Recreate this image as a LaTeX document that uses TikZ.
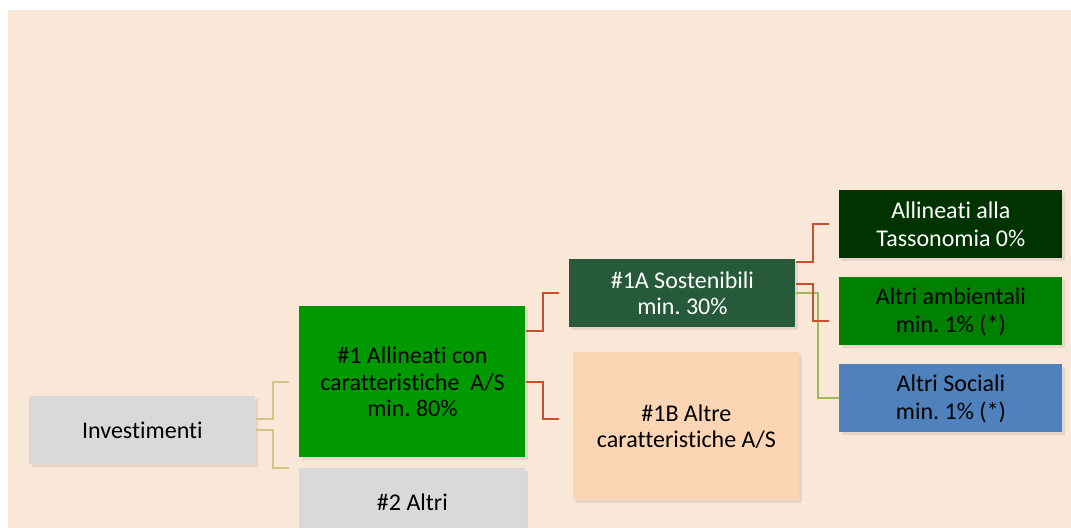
\documentclass[tikz,border=0pt]{standalone}
\usepackage{fontspec}
\setmainfont{Carlito}[Ligatures={NoCommon}]
\usetikzlibrary{calc,shadows}
\definecolor{bgbeige}{HTML}{F9E8D8}
\definecolor{boxgray}{HTML}{D9D9D9}
\definecolor{green1}{HTML}{009900}
\definecolor{green1a}{HTML}{265A3A}
\definecolor{greentax}{HTML}{013300}
\definecolor{greenamb}{HTML}{008000}
\definecolor{bluesoc}{HTML}{4F81BD}
\definecolor{peach}{HTML}{FCD5B4}
\definecolor{tanline}{HTML}{D3C485}
\definecolor{redline}{HTML}{C9502E}
\definecolor{greenline}{HTML}{9BBB59}
\tikzset{
  box/.style={anchor=north west, inner sep=0pt, align=center,
    font=\fontsize{12}{13.2}\selectfont,
    drop shadow={shadow xshift=1.2pt, shadow yshift=-1.2pt, opacity=0.18}},
  rbox/.style={box, minimum width=111.5pt, minimum height=34pt,
    font=\fontsize{12}{14}\selectfont},
  tanl/.style={draw=tanline, line width=1pt},
  redl/.style={draw=redline, line width=1pt},
  greenl/.style={draw=greenline, line width=1pt},
}
\frenchspacing
\begin{document}
\begin{tikzpicture}[x=0.5pt,y=-0.5pt]
\useasboundingbox (0,0) rectangle (1071,528);
\fill[white] (0,0) rectangle (1071,528);
\fill[bgbeige] (8,10) rectangle (1071,528);
\begin{scope}
\clip (0,0) rectangle (1071,528);
% nodes
\node[box, fill=boxgray, minimum width=113pt, minimum height=34pt] (inv) at (29,396) {Investimenti};
\node[box, fill=green1, minimum width=113pt, minimum height=75.5pt] (a1) at (299,306) {\#1 Allineati con\\caratteristiche\ \ A/S\\min. 80\%};
\node[box, fill=boxgray, minimum width=113pt, minimum height=34pt] (a2) at (299,468) {\#2 Altri};
\node[box, fill=green1a, text=white, minimum width=113pt, minimum height=34pt] (s1a) at (569,259) {\#1A Sostenibili\\min. 30\%};
\node[box, fill=peach, minimum width=113pt, minimum height=74pt] (s1b) at (573,352) {\#1B Altre\\caratteristiche A/S};
\node[rbox, fill=greentax, text=white] (tax) at (839,190) {Allineati alla\\Tassonomia 0\%};
\node[rbox, fill=greenamb] (amb) at (839,277) {Altri ambientali\\min. 1\% (*)};
\node[rbox, fill=bluesoc] (soc) at (839,364) {Altri Sociali\\min. 1\% (*)};
% connectors
\draw[tanl] ($(inv.east)+(0,-11)$) -- ++(17,0) |- ($(a1.west)+(-10,0)$);
\draw[tanl] (inv.east) -- ++(17,0) |- ($(a2.north west)+(-10,0)$);
\draw[redl] ($(a1.east)+(0,-50.5)$) -- ++(17,0) |- ($(s1a.west)+(-10,0)$);
\draw[redl] (a1.east) -- ++(17,0) |- ($(s1b.west)+(-14,-7)$);
\draw[greenl] (s1a.east) -- ++(22,0) |- (soc.west);
\draw[redl] ($(s1a.north east)+(0,3)$) -- ++(17,0) |- ($(tax.west)+(-10,0)$);
\draw[redl] ($(s1a.east)+(0,-9)$) -- ++(17,0) |- ($(amb.west)+(-10,10)$);
\end{scope}
\end{tikzpicture}
\end{document}
